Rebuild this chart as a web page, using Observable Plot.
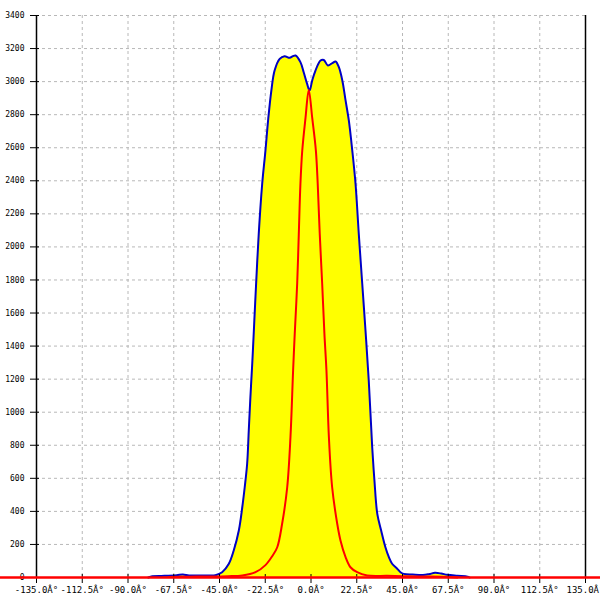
<!DOCTYPE html>
<html>
<head>
<meta charset="utf-8">
<script src="https://cdn.jsdelivr.net/npm/d3@7"></script>
<script src="https://cdn.jsdelivr.net/npm/@observablehq/plot@0.6"></script>
<style>
  html, body { margin: 0; padding: 0; background: #fff; overflow: hidden; }
</style>
</head>
<body>
<div id="chart"></div>
<script>
// Axis domain and ticks
const xDomain = [-135, 135];
const yDomain = [0, 3400];
const xTicks = [-135, -112.5, -90, -67.5, -45, -22.5, 0, 22.5, 45, 67.5, 90, 112.5, 135];
const yTicks = [0, 200, 400, 600, 800, 1000, 1200, 1400, 1600, 1800, 2000, 2200, 2400, 2600, 2800, 3000, 3200, 3400];
const degreeSuffix = "Â°";
const baselineExtent = [-160, 160];

// Blue series (filled yellow)
const blueAngle = [-80, -78, -72, -66, -63, -60, -55, -50, -47, -43.7, -40.4, -38, -35.5, -33.8, -32.6, -31.4, -30.6, -29.8, -28.9, -28.1, -27.3, -25.7, -24, -22.4, -21.1, -19.5, -17.9, -15.4, -13, -10.5, -8.9, -7.6, -5.2, -3.6, -1.9, -0.7, 0.6, 2.2, 4.7, 6.3, 8.3, 10.5, 12.1, 13.7, 15.4, 17, 18.6, 20.3, 21.9, 23.5, 25.2, 26.8, 28.4, 30.1, 31.2, 32.6, 34.5, 36.6, 38.3, 39.9, 42.4, 44, 45.6, 50, 55, 58, 61, 64, 67, 72, 77, 78];
const blueValue = [0, 8, 10, 14, 18, 12, 12, 12, 14, 32, 83, 163, 284, 425, 546, 688, 889, 1091, 1293, 1494, 1700, 2079, 2382, 2583, 2765, 2946, 3067, 3138, 3154, 3144, 3154, 3158, 3118, 3057, 2986, 2946, 3007, 3067, 3128, 3131, 3098, 3112, 3122, 3087, 3007, 2886, 2765, 2583, 2382, 2079, 1777, 1494, 1192, 788, 587, 385, 284, 183, 123, 83, 53, 32, 22, 18, 15, 20, 28, 24, 16, 10, 5, 0];

// Red series
const redAngle = [-70, -60, -50, -41, -33.8, -27.3, -22.4, -19, -16.6, -14.2, -11.7, -10.1, -8.8, -8, -6.8, -6, -5.2, -4.3, -2.7, -1.1, 0.6, 2.4, 3.3, 4.3, 5.5, 6.6, 7.6, 8.8, 10.4, 12.9, 14.5, 17, 19.4, 22.7, 27.6, 37.5, 45, 55, 65, 72];
const redValue = [3, 5, 6, 8, 12, 32, 75, 130, 183, 325, 546, 849, 1252, 1474, 1777, 2079, 2382, 2583, 2780, 2950, 2780, 2583, 2382, 2079, 1777, 1474, 1252, 849, 546, 325, 224, 123, 62, 32, 12, 10, 8, 6, 5, 0];

const blue = blueAngle.map((a, i) => ({angle: a, value: blueValue[i]}));
const red = redAngle.map((a, i) => ({angle: a, value: redValue[i]}));

const chart = Plot.plot({
  width: 600,
  height: 600,
  marginLeft: 36,
  marginRight: 15,
  marginTop: 15,
  marginBottom: 23,
  style: {background: "#fff", fontFamily: "DejaVu Sans Mono", color: "#000"},
  x: {domain: xDomain},
  y: {domain: yDomain},
  marks: [
    Plot.gridX(xTicks, {stroke: "#b8b8b8", strokeOpacity: 1, strokeDasharray: "3,3"}),
    Plot.gridY(yTicks, {stroke: "#b8b8b8", strokeOpacity: 1, strokeDasharray: "3,3"}),
    Plot.areaY(blue, {x: "angle", y: "value", fill: "#ffff00", curve: "catmull-rom"}),
    Plot.line(blue, {x: "angle", y: "value", stroke: "#0000c8", strokeWidth: 2, curve: "catmull-rom"}),
    Plot.line(red, {x: "angle", y: "value", stroke: "#ff0000", strokeWidth: 2, curve: "catmull-rom"}),
    Plot.ruleX(xDomain, {stroke: "#000", strokeWidth: 1.5}),
    Plot.axisX({ticks: xTicks, tickSize: 9, dy: -3, tickPadding: 3, fontSize: 9,
      tickFormat: d => d.toFixed(1) + degreeSuffix, label: null, stroke: "#000"}),
    Plot.axisY({ticks: yTicks, tickSize: 9, dx: 3, tickPadding: 6, fontSize: 8,
      tickFormat: d => String(d), label: null, stroke: "#000"}),
    Plot.ruleY([0], {x1: baselineExtent[0], x2: baselineExtent[1], stroke: "#ff0000", strokeWidth: 2.5})
  ]
});
document.getElementById("chart").appendChild(chart);
</script>
</body>
</html>
